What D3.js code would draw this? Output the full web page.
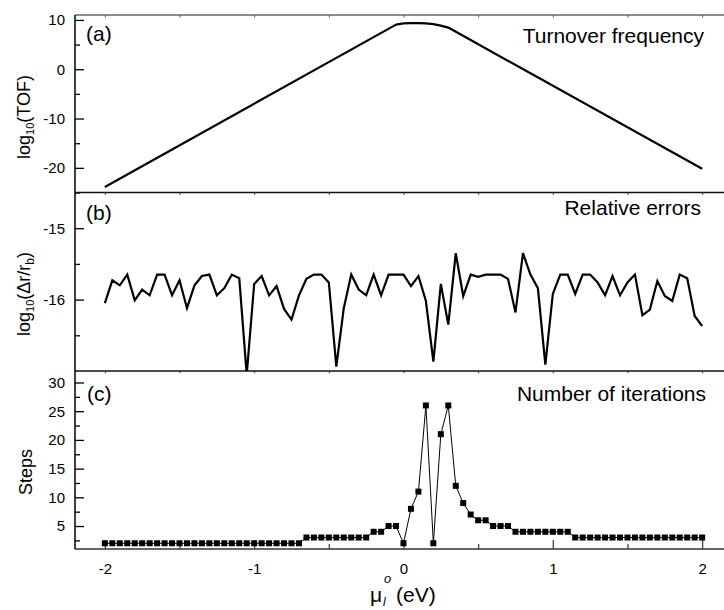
<!DOCTYPE html>
<html>
<head>
<meta charset="utf-8">
<script src="https://cdn.jsdelivr.net/npm/d3@7/dist/d3.min.js"></script>
<style>
  html, body { margin: 0; padding: 0; background: #fff; }
  svg { display: block; font-family: "Liberation Sans", Arial, Helvetica, sans-serif; }
</style>
</head>
<body>
<svg id="chart" width="724" height="610"></svg>
<script>
// ---------------- DATA ----------------
// Panel (a): log10(TOF) vs mu (eV) — vertices of the volcano curve
const tofX = [-2, -0.05, 0, 0.05, 0.1, 0.15, 0.2, 0.25, 0.3, 2];
const tofY = [-23.9, 9.05, 9.3, 9.35, 9.35, 9.3, 9.15, 8.85, 8.45, -20.2];

// common grid for panels (b) and (c): -2 .. 2 step 0.05 (81 points)
const muGrid = [
  -2.00,-1.95,-1.90,-1.85,-1.80,-1.75,-1.70,-1.65,-1.60,-1.55,
  -1.50,-1.45,-1.40,-1.35,-1.30,-1.25,-1.20,-1.15,-1.10,-1.05,
  -1.00,-0.95,-0.90,-0.85,-0.80,-0.75,-0.70,-0.65,-0.60,-0.55,
  -0.50,-0.45,-0.40,-0.35,-0.30,-0.25,-0.20,-0.15,-0.10,-0.05,
   0.00, 0.05, 0.10, 0.15, 0.20, 0.25, 0.30, 0.35, 0.40, 0.45,
   0.50, 0.55, 0.60, 0.65, 0.70, 0.75, 0.80, 0.85, 0.90, 0.95,
   1.00, 1.05, 1.10, 1.15, 1.20, 1.25, 1.30, 1.35, 1.40, 1.45,
   1.50, 1.55, 1.60, 1.65, 1.70, 1.75, 1.80, 1.85, 1.90, 1.95,
   2.00
];

// Panel (b): log10(Δr/r_b)
const relErr = [
  -16.05,-15.73,-15.80,-15.65,-16.01,-15.86,-15.94,-15.65,-15.65,-15.94,
  -15.73,-16.12,-15.80,-15.67,-15.65,-15.94,-15.84,-15.65,-15.70,-17.05,
  -15.78,-15.67,-15.94,-15.81,-16.13,-16.28,-15.94,-15.71,-15.65,-15.65,
  -15.76,-16.94,-16.12,-15.65,-15.86,-15.94,-15.65,-15.94,-15.65,-15.65,
  -15.65,-15.81,-15.67,-16.02,-16.87,-15.78,-16.35,-15.35,-15.95,-15.65,
  -15.68,-15.65,-15.65,-15.65,-15.71,-16.18,-15.35,-15.65,-15.84,-16.91,
  -15.92,-15.65,-15.65,-15.92,-15.65,-15.65,-15.76,-15.94,-15.67,-15.94,
  -15.76,-15.65,-16.22,-16.14,-15.74,-15.95,-16.02,-15.65,-15.70,-16.23,
  -16.37
];

// Panel (c): number of iterations
const steps = [
  2,2,2,2,2,2,2,2,2,2,
  2,2,2,2,2,2,2,2,2,2,
  2,2,2,2,2,2,2,3,3,3,
  3,3,3,3,3,3,4,4,5,5,
  2,8,11,26,2,21,26,12,9,7,
  6,6,5,5,5,4,4,4,4,4,
  4,4,4,3,3,3,3,3,3,3,
  3,3,3,3,3,3,3,3,3,3,
  3
];

// tick values
const xMajor = [-2, -1, 0, 1, 2];
const xMinor = [-1.5, -0.5, 0.5, 1.5];
const xTopTicks = [-2, -1.5, -1, -0.5, 0, 0.5, 1, 1.5, 2];
const aMajor = [-20, -10, 0, 10];
const aMinor = [-25, -15, -5, 5];
const bMajor = [-16, -15];
const bMinor = [-16.5, -15.5];
const cMajor = [5, 10, 15, 20, 25, 30];
const cMinor = [2.5, 7.5, 12.5, 17.5, 22.5, 27.5];

// ---------------- LAYOUT ----------------
const svg = d3.select("#chart");
const L = 75, R = 732;
const T = 15, AB = 192.5, BC = 371, B = 549;

const x = d3.scaleLinear().domain([-2.2, 2.2]).range([L, R]);
const ya = d3.scaleLinear().domain([-25, 11]).range([AB, T]);
const yb = d3.scaleLinear().domain([-17, -14.5]).range([BC, AB]);
const yc = d3.scaleLinear().domain([1, 32]).range([B, BC]);

const tickFont = 15;

function yAxis(scale, major, minor) {
  const gMaj = svg.append("g").attr("transform", `translate(${L},0)`)
    .call(d3.axisLeft(scale).tickValues(major).tickSize(-9).tickPadding(10).tickFormat(d3.format("d")));
  gMaj.select(".domain").remove();
  gMaj.selectAll("line").attr("stroke", "#000").attr("stroke-width", 1.3);
  gMaj.selectAll("text").attr("font-size", tickFont).attr("fill", "#000")
      .attr("font-family", "Liberation Sans, Arial, sans-serif")
      .text(d => d < 0 ? "-" + Math.abs(d) : d);
  const gMin = svg.append("g").attr("transform", `translate(${L},0)`)
    .call(d3.axisLeft(scale).tickValues(minor).tickSize(-5).tickFormat(""));
  gMin.select(".domain").remove();
  gMin.selectAll("line").attr("stroke", "#000").attr("stroke-width", 1.3);
}
yAxis(ya, aMajor, aMinor);
yAxis(yb, bMajor, bMinor);
yAxis(yc, cMajor, cMinor);

// bottom x axis
const gx = svg.append("g").attr("transform", `translate(0,${B})`)
  .call(d3.axisBottom(x).tickValues(xMajor).tickSize(-9).tickPadding(14)
    .tickFormat(d => d < 0 ? "-" + Math.abs(d) : d));
gx.select(".domain").remove();
gx.selectAll("line").attr("stroke", "#444").attr("stroke-width", 1.3);
gx.selectAll("text").attr("font-size", tickFont).attr("fill", "#000")
  .attr("font-family", "Liberation Sans, Arial, sans-serif");
const gxm = svg.append("g").attr("transform", `translate(0,${B})`)
  .call(d3.axisBottom(x).tickValues(xMinor).tickSize(-5).tickFormat(""));
gxm.select(".domain").remove();
gxm.selectAll("line").attr("stroke", "#444").attr("stroke-width", 1.3);

// small ticks on top edges of each panel
[T, AB, BC].forEach(yy => {
  const g = svg.append("g").attr("transform", `translate(0,${yy})`)
    .call(d3.axisTop(x).tickValues(xTopTicks).tickSize(-2.5).tickFormat(""));
  g.select(".domain").remove();
  g.selectAll("line").attr("stroke", "#555").attr("stroke-width", 1);
});

// frame lines
svg.append("line").attr("x1", L).attr("x2", R).attr("y1", T).attr("y2", T)
  .attr("stroke", "#666").attr("stroke-width", 1.5);
[AB, BC].forEach(yy => svg.append("line").attr("x1", L).attr("x2", R).attr("y1", yy).attr("y2", yy)
  .attr("stroke", "#111").attr("stroke-width", 1.5));
svg.append("line").attr("x1", L).attr("x2", R).attr("y1", B).attr("y2", B)
  .attr("stroke", "#333").attr("stroke-width", 1.5);
svg.append("line").attr("x1", L).attr("x2", L).attr("y1", T).attr("y2", B)
  .attr("stroke", "#000").attr("stroke-width", 1.5);

// clip paths
const defs = svg.append("defs");
defs.append("clipPath").attr("id", "clipB").append("rect")
  .attr("x", L).attr("y", AB).attr("width", R - L).attr("height", BC - AB);

// panel (a) line
const tofData = tofX.map((v, i) => [v, tofY[i]]);
svg.append("path").datum(tofData)
  .attr("fill", "none").attr("stroke", "#000").attr("stroke-width", 2.2)
  .attr("stroke-linejoin", "round")
  .attr("d", d3.line().x(d => x(d[0])).y(d => ya(d[1])));

// panel (b) line
const errData = muGrid.map((v, i) => [v, relErr[i]]);
svg.append("path").datum(errData).attr("clip-path", "url(#clipB)")
  .attr("fill", "none").attr("stroke", "#000").attr("stroke-width", 2.2)
  .attr("stroke-linejoin", "miter")
  .attr("d", d3.line().x(d => x(d[0])).y(d => yb(d[1])));

// panel (c) line + squares
const stepData = muGrid.map((v, i) => [v, steps[i]]);
svg.append("path").datum(stepData)
  .attr("fill", "none").attr("stroke", "#000").attr("stroke-width", 1)
  .attr("d", d3.line().x(d => x(d[0])).y(d => yc(d[1])));
svg.append("g").selectAll("rect").data(stepData).join("rect")
  .attr("x", d => x(d[0]) - 3).attr("y", d => yc(d[1]) - 3)
  .attr("width", 6).attr("height", 6).attr("fill", "#000");

// panel labels and titles
const lab = (txt, xx, yy, anchor) => svg.append("text").attr("x", xx).attr("y", yy)
  .attr("font-size", 21).attr("text-anchor", anchor || "start").attr("fill", "#000").text(txt);
lab("(a)", 86, 41);
lab("(b)", 86, 220);
lab("(c)", 87, 401);
lab("Turnover frequency", 704, 43, "end");
lab("Relative errors", 701, 215, "end");
lab("Number of iterations", 706, 401, "end");

// y axis titles
const t1 = svg.append("text").attr("transform", "translate(30,117) rotate(-90)")
  .attr("text-anchor", "middle").attr("font-size", 18).attr("fill", "#000");
t1.append("tspan").text("log");
t1.append("tspan").attr("font-size", 11).attr("dy", 4).text("10");
t1.append("tspan").attr("dy", -4).text("(TOF)");

const t2 = svg.append("text").attr("transform", "translate(30,294) rotate(-90)")
  .attr("text-anchor", "middle").attr("font-size", 18).attr("fill", "#000");
t2.append("tspan").text("log");
t2.append("tspan").attr("font-size", 11).attr("dy", 4).text("10");
t2.append("tspan").attr("dy", -4).text("(Δr/r");
t2.append("tspan").attr("font-size", 12).attr("dy", 4).text("b");
t2.append("tspan").attr("dy", -4).text(")");

svg.append("text").attr("transform", "translate(32,472) rotate(-90)")
  .attr("text-anchor", "middle").attr("font-size", 18).attr("fill", "#000").text("Steps");

// x axis title: μ_l^o (eV)
const xt = svg.append("g");
xt.append("text").attr("x", 370).attr("y", 602).attr("font-size", 21).attr("fill", "#000").text("μ");
xt.append("text").attr("x", 383).attr("y", 606).attr("font-size", 12).attr("font-style", "italic").attr("fill", "#000").text("l");
xt.append("text").attr("x", 384).attr("y", 583).attr("font-size", 13).attr("font-style", "italic").attr("fill", "#000").text("o");
xt.append("text").attr("x", 396).attr("y", 602).attr("font-size", 21).attr("fill", "#000").text("(eV)");
</script>
</body>
</html>
